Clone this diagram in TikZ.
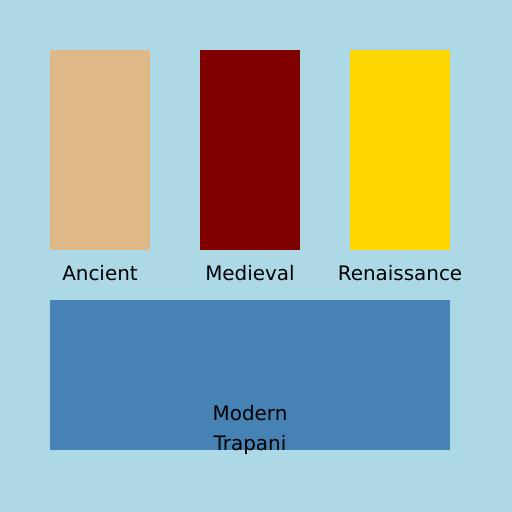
\documentclass[tikz,border=0pt]{standalone}
\usepackage{fontspec}
\setmainfont{DejaVu Sans}
\definecolor{skyback}{HTML}{ADD8E6}
\definecolor{ancientc}{HTML}{DEB887}
\definecolor{medievalc}{HTML}{800000}
\definecolor{renaisc}{HTML}{FFD700}
\definecolor{modernc}{HTML}{4682B4}
\tikzset{
  era/.style={anchor=base, inner sep=0pt, font=\fontsize{20}{24}\selectfont}
}
\begin{document}
\begin{tikzpicture}[x=1bp, y=-1bp]
  \fill[skyback] (0,0) rectangle (512,512);
  \useasboundingbox (0,0) rectangle (512,512);

  \fill[ancientc] (50,50) rectangle (150,250);
  \fill[medievalc] (200,50) rectangle (300,250);
  \fill[renaisc] (350,50) rectangle (450,250);
  \fill[modernc] (50,300) rectangle (450,450);

  \node[era] (A) at (100,280) {Ancient};
  \node[era] (M) at (250,280) {Medieval};
  \node[era] (R) at (400,280) {Renaissance};
  \node[era] (Mo) at (250,420) {Modern};
  \node[era] (T) at (250,450) {Trapani};
\end{tikzpicture}
\end{document}
